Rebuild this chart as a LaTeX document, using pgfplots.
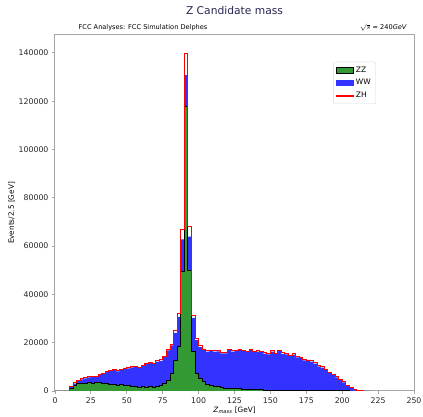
\documentclass[border=0pt]{standalone}
\usepackage{fontspec}
\setmainfont{DejaVu Sans}
\usepackage{pgfplots}
\pgfplotsset{compat=1.18}
\usepackage{pgfplotstable}
\definecolor{zzgreen}{RGB}{51,153,51}
\definecolor{wwblue}{RGB}{51,51,255}
\definecolor{titlecol}{RGB}{38,38,80}

\pgfplotstableread{
x zz ww zh
0 0 0 0
2.5 0 0 0
5 0 0 0
7.5 0 0 0
10 1200 600 200
12.5 2400 700 300
15 3000 1200 300
17.5 3300 1500 300
20 3200 2000 300
22.5 3400 2200 300
25 3300 2400 300
27.5 3500 2400 300
30 3500 3100 300
32.5 3300 3900 300
35 3000 4900 300
37.5 2900 5400 300
40 2600 6000 300
42.5 2500 5600 300
45 2600 6100 300
47.5 2400 6700 300
50 2300 7100 300
52.5 1800 8000 300
55 1800 8300 300
57.5 1700 7800 300
60 1800 8700 300
62.5 1600 9500 300
65 1900 9600 300
67.5 1700 9600 300
70 2000 10200 300
72.5 2400 10100 400
75 3200 10800 400
77.5 4500 12300 500
80 7300 11600 600
82.5 12800 11300 900
85 18300 12400 1500
87.5 49700 13100 4100
90 117700 13100 9200
92.5 50100 13800 4100
95 16300 14000 900
97.5 7300 13800 700
100 5200 13000 600
102.5 3900 13000 500
105 2900 13400 400
107.5 2500 14100 400
110 2100 14200 400
112.5 1800 14600 400
115 1500 14100 400
117.5 1300 14300 400
120 1200 15800 400
122.5 1100 15200 400
125 1000 15600 400
127.5 900 16000 400
130 800 15800 400
132.5 700 15500 400
135 650 16250 400
137.5 600 15600 400
140 550 15750 400
142.5 500 15700 400
145 450 15050 400
147.5 400 14800 400
150 350 15950 400
152.5 300 15000 400
155 300 16300 400
157.5 280 15120 400
160 260 14940 400
162.5 250 14250 400
165 240 14860 400
167.5 230 13670 400
170 220 13380 400
172.5 210 12490 400
175 200 12200 400
177.5 190 12010 400
180 180 11120 400
182.5 170 10030 400
185 160 9540 400
187.5 150 8450 400
190 140 7410 350
192.5 130 6520 350
195 120 5480 300
197.5 110 4390 300
200 100 3500 300
202.5 80 2170 250
205 60 1140 200
207.5 40 510 150
210 20 80 100
212.5 10 40 50
215 0 20 30
217.5 0 0 20
220 0 0 0
}\histdata

\begin{document}
\begin{tikzpicture}
\useasboundingbox (-55pt,-26pt) rectangle (368pt,391pt);
\begin{axis}[
  at={(0,0)}, anchor=south west,
  scale only axis, width=359pt, height=356pt,
  xmin=0, xmax=250, ymin=0, ymax=147400,
  clip mode=individual,
  xtick={0,25,...,250},
  ytick={0,20000,...,140000},
  scaled y ticks=false,
  /pgf/number format/assume math mode=true,
  yticklabel style={/pgf/number format/fixed, /pgf/number format/1000 sep={}},
  ticklabel style={font=\fontsize{7.8}{9}\selectfont, text=black!85},
  tick align=outside, xtick pos=bottom, ytick pos=left,
  major tick length=3pt,
  tick style={gray!70, line width=0.8pt},
  axis line style={gray!70, line width=1pt},
  xlabel={\textit{Z}\textsubscript{\textit{mass}} [GeV]},
  ylabel={Events/2.5 [GeV]},
  label style={font=\fontsize{7.3}{8}\selectfont},
  xlabel style={yshift=3pt},
  ylabel style={yshift=-3pt},
  legend style={at={(0.775,0.925)}, anchor=north west, draw=gray!30, rounded corners=2pt,
    font=\fontsize{7.5}{9}\selectfont, row sep=1.5pt, inner sep=3pt},
  legend image post style={sharp corners},
  legend cell align=left,
]
\addlegendimage{area legend, fill=zzgreen, draw=black}
\addlegendentry{ZZ}
\addlegendimage{area legend, fill=wwblue, draw=wwblue}
\addlegendentry{WW}
\addlegendimage{legend image code/.code={\fill[red] (0cm,-0.55pt) rectangle (0.6cm,0.55pt);}}
\addlegendentry{ZH}

\addplot[const plot, fill=wwblue, draw=none, forget plot] table[x=x, y expr=\thisrow{zz}+\thisrow{ww}] {\histdata} \closedcycle;
\addplot[const plot, fill=zzgreen, draw=none, forget plot] table[x=x, y=zz] {\histdata} \closedcycle;
\addplot[const plot, black, line width=0.7pt, forget plot] table[x=x, y=zz] {\histdata};
\addplot[const plot, red, line width=0.7pt, forget plot] table[x=x, y expr=\thisrow{zz}+\thisrow{ww}+\thisrow{zh}] {\histdata};

\node[font=\fontsize{10.7}{12}\selectfont, text=titlecol] at (rel axis cs:0.5,1) [yshift=24pt] {Z Candidate mass};
\node[font=\fontsize{6.6}{8}\selectfont, anchor=base west] at (rel axis cs:0.056,1) [yshift=5pt] {FCC Analyses: FCC Simulation Delphes};
\node[font=\fontsize{6.6}{8}\selectfont, anchor=base east] at (rel axis cs:0.99,1) [yshift=5pt] {$\sqrt{s}$ = 240\textit{GeV}};
\end{axis}
\end{tikzpicture}
\end{document}
